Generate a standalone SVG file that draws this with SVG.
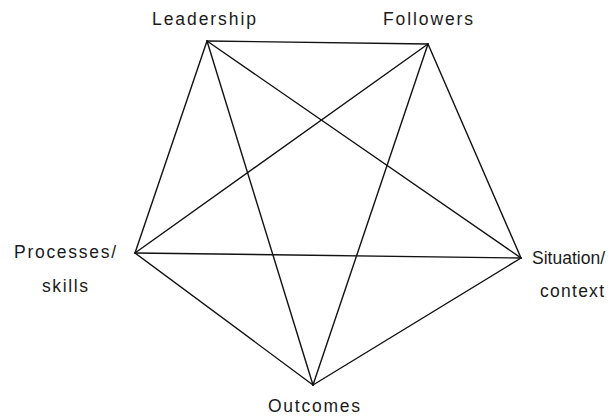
<svg xmlns="http://www.w3.org/2000/svg" width="611" height="420" viewBox="0 0 611 420">
<style>
.lbl{font-family:"Liberation Sans",Arial,sans-serif;font-size:17.5px;fill:#1a1a1a}
.edge{stroke:#111;stroke-width:1.4;fill:none;stroke-linecap:round}
</style>
<rect width="611" height="420" fill="#fff"/>
<g id="connectors">
<line class="edge" x1="207" y1="41" x2="428" y2="44"/>
<line class="edge" x1="428" y1="44" x2="521" y2="258"/>
<line class="edge" x1="521" y1="258" x2="313" y2="385"/>
<line class="edge" x1="313" y1="385" x2="135" y2="253"/>
<line class="edge" x1="135" y1="253" x2="207" y2="41"/>
<line class="edge" x1="207" y1="41" x2="521" y2="258"/>
<line class="edge" x1="207" y1="41" x2="313" y2="385"/>
<line class="edge" x1="428" y1="44" x2="135" y2="253"/>
<line class="edge" x1="428" y1="44" x2="313" y2="385"/>
<line class="edge" x1="135" y1="253" x2="521" y2="258"/>
</g>
<g id="leadership"><text class="lbl" x="152" y="25" textLength="104">Leadership</text></g>
<g id="followers"><text class="lbl" x="383" y="25" textLength="90">Followers</text></g>
<g id="processes"><text class="lbl" x="14" y="258" textLength="102">Processes/</text><text class="lbl" x="42" y="292" textLength="46">skills</text></g>
<g id="situation"><text class="lbl" x="532" y="264" textLength="73">Situation/</text><text class="lbl" x="540" y="297" textLength="64">context</text></g>
<g id="outcomes"><text class="lbl" x="268" y="412" textLength="92">Outcomes</text></g>
</svg>
